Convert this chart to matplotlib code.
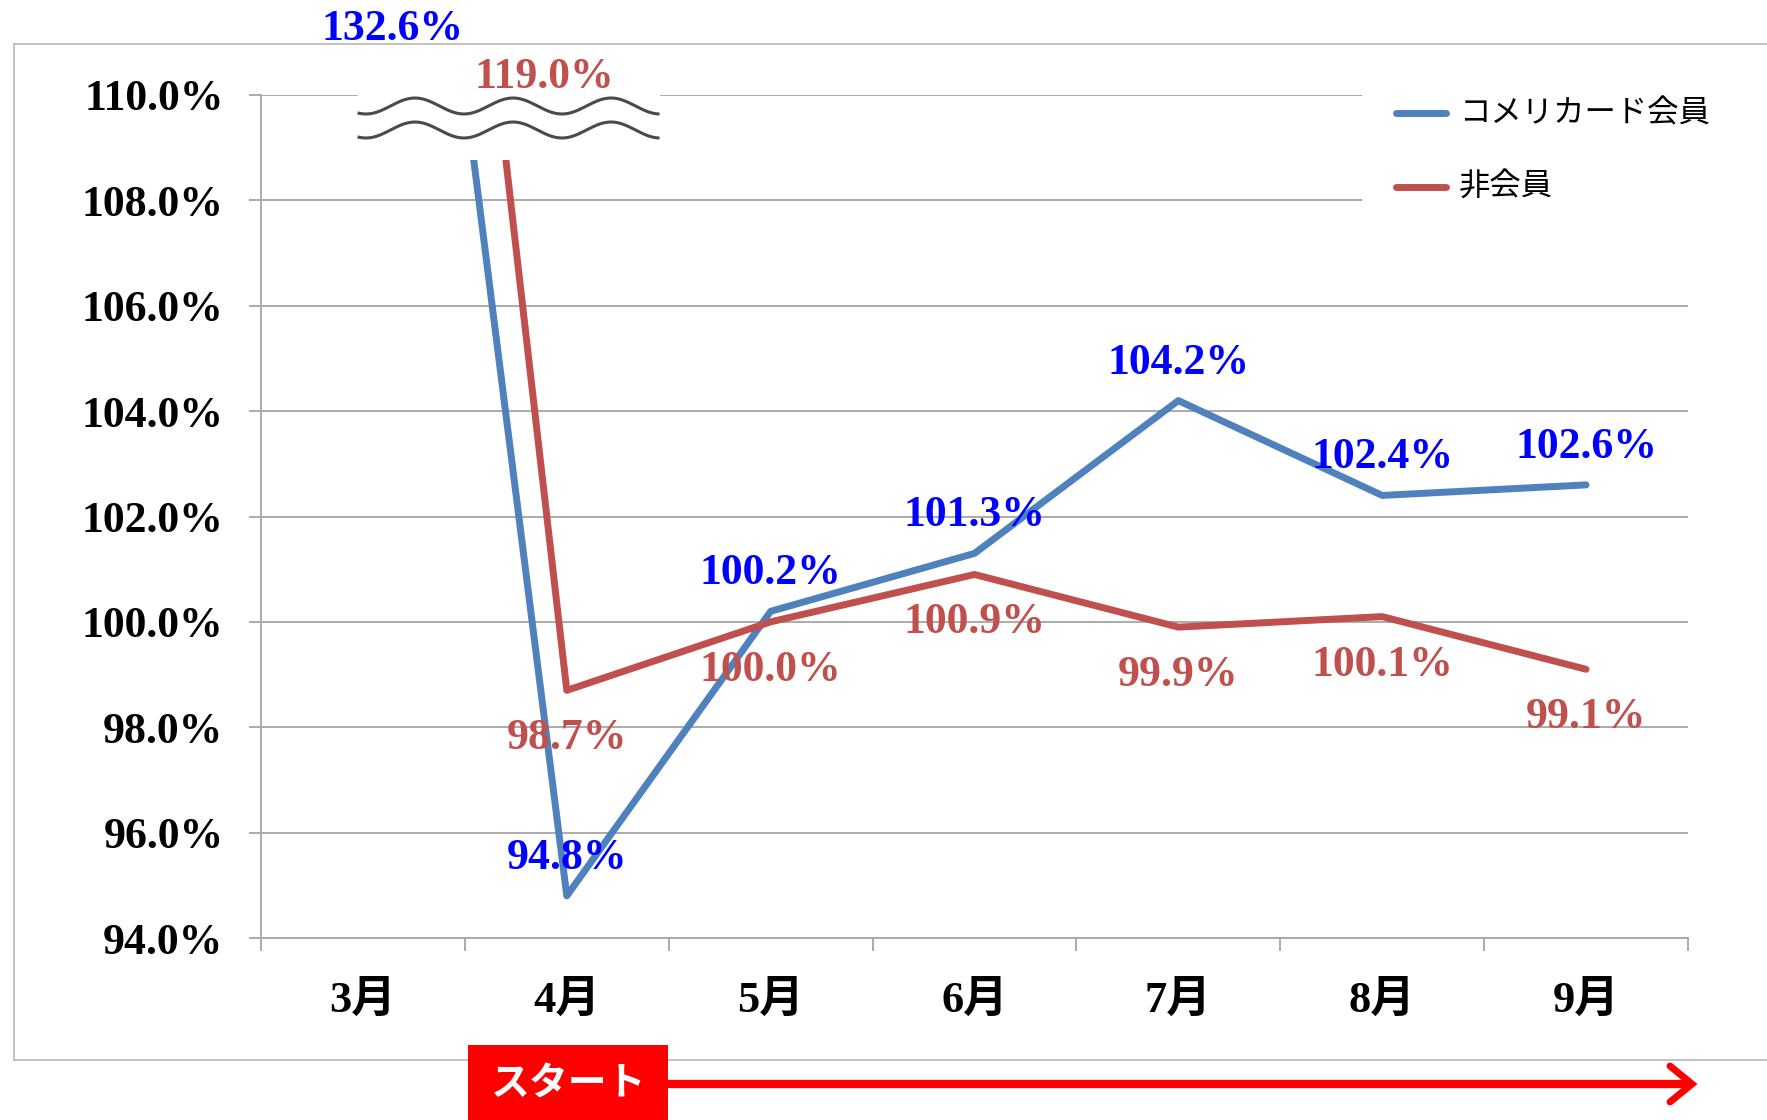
#!/usr/bin/env python3
"""
Monthly rate chart: Komeri card members vs non-members (3月-9月)
Broken y axis at the top for the March values, "スタート" arrow below.
"""

import numpy as np
import matplotlib
matplotlib.use('Agg')
import matplotlib.pyplot as plt
from matplotlib.patches import Rectangle
from matplotlib.lines import Line2D

# Data
months = ['3月', '4月', '5月', '6月', '7月', '8月', '9月']
member_rate = [132.6, 94.8, 100.2, 101.3, 104.2, 102.4, 102.6]
nonmember_rate = [119.0, 98.7, 100.0, 100.9, 99.9, 100.1, 99.1]
# March sits past the axis break; heights the two lines are drawn from
member_line_mar = 125.4
nonmember_line_mar = 132.4
series_names = ['コメリカード会員', '非会員']
yticks = [94, 96, 98, 100, 102, 104, 106, 108, 110]

# Colors
color_member = '#4F81BD'
color_nonmember = '#C0504D'
color_member_lbl = '#0000FF'
color_grid = '#ABABAB'

W, H = 1767, 1120
fig = plt.figure(figsize=(W / 100, H / 100), dpi=100, facecolor='white')

# background layer (outer frame), pixel coordinates
bg = fig.add_axes([0, 0, 1, 1], zorder=0)
bg.set_xlim(0, W)
bg.set_ylim(H, 0)
bg.axis('off')
bg.add_patch(Rectangle((14, 44), W, 1016, facecolor='white',
                       edgecolor='#BDBDBD', linewidth=1.3))

# main chart
ax = fig.add_axes([261 / W, 1 - 938 / H, (1688 - 261) / W, (938 - 95) / H], zorder=2)
ax.set_facecolor('none')
x = np.arange(len(months))
member_line = [member_line_mar] + member_rate[1:]
nonmember_line = [nonmember_line_mar] + nonmember_rate[1:]
ax.plot(x, member_line, color=color_member, linewidth=5,
        solid_capstyle='round', solid_joinstyle='round', zorder=3)
ax.plot(x, nonmember_line, color=color_nonmember, linewidth=5,
        solid_capstyle='round', solid_joinstyle='round', zorder=3)

ax.set_xlim(-0.5, len(months) - 0.5)
ax.set_ylim(94, 110)
ax.set_yticks(yticks)
ax.set_yticklabels([f'{v:.1f}%' for v in yticks])
ax.yaxis.grid(True, color=color_grid, linewidth=1.4)
ax.set_axisbelow(True)
for s in ['top', 'right']:
    ax.spines[s].set_visible(False)
for s in ['left', 'bottom']:
    ax.spines[s].set_color(color_grid)
    ax.spines[s].set_linewidth(1.4)

lbl_font = dict(family='Liberation Serif', weight='bold', size=31.5)
ax.tick_params(axis='y', length=9, width=1.4, color=color_grid, pad=18)
for t in ax.get_yticklabels():
    t.set_fontproperties(dict(lbl_font))

ax.set_xticks(x)
ax.set_xticklabels(months, family=['Liberation Serif', 'Noto Sans CJK JP'],
                   weight='bold', size=32)
ax.set_xticks(np.arange(-0.5, len(months), 1), minor=True)
ax.tick_params(axis='x', which='major', length=0, pad=31)
ax.tick_params(axis='x', which='minor', length=9, width=1.4, color=color_grid)

# data labels (blue above, red below); March labels sit above the break
for i in range(1, len(months)):
    ax.text(x[i], member_rate[i] + 0.72, f'{member_rate[i]:.1f}%', ha='center',
            va='center', color=color_member_lbl, zorder=4, **lbl_font)
    ax.text(x[i], nonmember_rate[i] - 0.91, f'{nonmember_rate[i]:.1f}%', ha='center',
            va='center', color=color_nonmember, zorder=4, **lbl_font)
ax.text(0.147, 111.25, f'{member_rate[0]:.1f}%', ha='center', va='center',
        color=color_member_lbl, clip_on=False, **lbl_font)
ax.text(0.888, 110.35, f'{nonmember_rate[0]:.1f}%', ha='center', va='center',
        color=color_nonmember, clip_on=False, **lbl_font)

# overlay layer: axis break, legend, start arrow (pixel coordinates)
ov = fig.add_axes([0, 0, 1, 1], zorder=5)
ov.set_facecolor('none')
ov.set_xlim(0, W)
ov.set_ylim(H, 0)
ov.axis('off')

# axis break
ov.add_patch(Rectangle((358, 92), 302, 68, facecolor='white', edgecolor='none'))
xw = np.linspace(359, 658, 300)
for yc in (106, 130):
    ov.plot(xw, yc + 8 * np.cos(2 * np.pi * (xw - 366) / 98),
            color='#4A4A4A', linewidth=2.2)

# legend
ov.add_patch(Rectangle((1362, 55), 400, 190, facecolor='white', edgecolor='none'))
for yy, c, name in [(113, color_member, series_names[0]),
                    (187, color_nonmember, series_names[1])]:
    ov.add_line(Line2D([1396, 1446], [yy, yy], color=c, linewidth=5,
                       solid_capstyle='round'))
    ov.text(1459, yy, name, ha='left', va='center', family='Noto Sans CJK JP',
            fontsize=22.6, color='black')

# start box + arrow
ov.add_patch(Rectangle((468, 1045), 200, 80, facecolor='#FF0000', edgecolor='none'))
ov.text(568, 1084, 'スタート', ha='center', va='center', color='white',
        family='Noto Sans CJK JP', weight='bold', fontsize=28)
ov.add_line(Line2D([668, 1688], [1084, 1084], color='#FF0000', linewidth=6))
ov.add_line(Line2D([1670, 1692, 1670], [1066, 1084, 1102], color='#FF0000',
                   linewidth=5, solid_capstyle='round', solid_joinstyle='miter'))

plt.savefig('out.png', dpi=100, facecolor='white')
print('saved out.png')
